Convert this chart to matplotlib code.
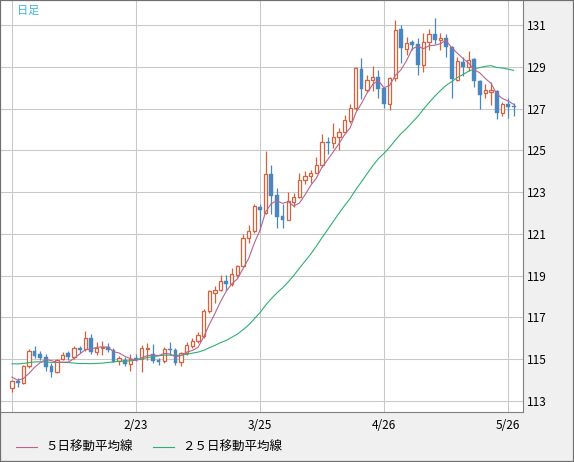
import numpy as np
import pandas as pd
import matplotlib
matplotlib.use('Agg')
import matplotlib.pyplot as plt
from matplotlib.patches import Rectangle
from matplotlib.lines import Line2D

plt.rcParams['font.family'] = ['Noto Sans CJK JP', 'DejaVu Sans']

# 日足データ (1/24 - 5/27)
dates = pd.bdate_range('2022-01-24', '2022-05-27')

open_ = [113.62, 113.95, 113.86, 114.68, 115.39, 115.25, 115.10, 114.66, 114.40, 115.00,
         115.28, 115.09, 115.52, 115.47, 116.00, 115.33, 115.53, 115.58, 115.44, 114.91,
         114.96, 114.76, 115.06, 115.00, 115.48, 115.24, 114.96, 114.93, 115.48, 115.44,
         114.88, 115.28, 115.65, 115.86, 116.12, 117.30, 118.18, 118.33, 118.76, 118.58,
         119.05, 119.45, 120.80, 121.15, 122.30, 121.98, 123.85, 122.85, 121.85, 121.68,
         122.52, 122.76, 123.58, 123.77, 123.93, 124.30, 125.42, 125.35, 125.65, 125.90,
         126.42, 127.05, 128.88, 127.90, 128.38, 128.50, 128.00, 127.20, 128.45, 130.80,
         129.85, 130.17, 130.10, 129.10, 130.18, 130.57, 130.30, 130.40, 129.93, 128.35,
         129.25, 129.00, 129.35, 128.30, 127.73, 127.80, 127.85, 126.80, 127.22, 127.12]
high = [114.00, 114.10, 114.72, 115.49, 115.65, 115.40, 115.25, 114.80, 115.02, 115.35,
        115.40, 115.63, 115.65, 116.33, 116.20, 115.84, 115.87, 115.75, 115.55, 115.17,
        115.10, 115.25, 115.25, 115.68, 115.76, 115.73, 115.05, 115.58, 115.84, 115.55,
        115.35, 115.80, 116.00, 116.32, 117.40, 118.30, 118.50, 119.05, 119.03, 119.38,
        119.50, 121.00, 121.42, 122.42, 122.45, 124.97, 124.30, 123.18, 122.42, 123.00,
        122.95, 123.90, 124.00, 124.05, 124.70, 125.77, 125.63, 126.30, 126.05, 126.70,
        127.20, 129.00, 129.40, 128.62, 129.05, 128.85, 128.05, 128.50, 131.25, 131.00,
        130.45, 130.30, 130.37, 130.60, 130.80, 131.35, 130.60, 130.55, 130.00, 129.45,
        129.48, 129.75, 129.40, 128.35, 128.17, 128.25, 127.88, 127.33, 127.50, 127.25]
low = [113.45, 113.68, 113.80, 114.60, 115.05, 114.95, 114.45, 114.16, 114.35, 114.95,
       114.96, 115.02, 115.30, 115.40, 115.25, 115.20, 115.20, 115.32, 114.85, 114.72,
       114.68, 114.45, 114.90, 114.40, 114.96, 114.80, 114.70, 114.80, 115.20, 114.70,
       114.68, 115.20, 115.55, 115.75, 116.02, 117.22, 117.70, 118.25, 118.30, 118.50,
       118.95, 119.40, 120.55, 121.05, 121.18, 121.95, 121.95, 121.30, 121.28, 121.65,
       122.30, 122.70, 123.40, 123.45, 123.90, 124.20, 124.80, 125.10, 125.02, 125.85,
       126.30, 126.95, 127.45, 127.80, 127.82, 127.50, 127.02, 126.95, 128.30, 129.20,
       129.55, 129.80, 128.62, 128.75, 129.80, 130.10, 129.80, 129.45, 127.52, 128.30,
       128.55, 128.78, 128.05, 126.98, 127.50, 127.17, 126.48, 126.64, 126.53, 126.65]
close = [113.96, 113.86, 114.68, 115.39, 115.15, 115.07, 114.64, 114.40, 114.96, 115.20,
         115.09, 115.52, 115.45, 116.00, 115.32, 115.55, 115.60, 115.42, 114.88, 115.04,
         114.76, 115.02, 114.98, 115.52, 115.55, 114.93, 114.88, 115.47, 115.42, 114.83,
         115.28, 115.68, 115.88, 116.15, 117.30, 118.25, 118.33, 118.75, 118.60, 119.10,
         119.45, 120.80, 121.15, 122.32, 122.12, 123.85, 122.82, 121.82, 121.68, 122.55,
         122.76, 123.58, 123.77, 123.93, 124.30, 125.38, 125.35, 125.66, 125.88, 126.44,
         127.05, 128.92, 127.92, 128.38, 128.52, 127.95, 127.22, 128.45, 130.75, 129.88,
         130.15, 130.05, 129.08, 130.18, 130.57, 130.28, 130.40, 129.93, 128.40, 129.27,
         129.00, 129.33, 128.30, 127.65, 127.88, 127.88, 126.80, 127.20, 127.06, 127.08]

# 移動平均の計算用 (表示期間より前の終値)
warmup_close = [114.08, 114.10, 114.42, 114.36, 114.84, 114.82, 114.95, 115.08, 115.08, 115.30,
                116.12, 116.13, 115.84, 115.56, 115.21, 115.28, 114.65, 114.20, 114.20, 114.60,
                114.59, 114.31, 114.15, 113.69]

price_ticks = [113, 115, 117, 119, 121, 123, 125, 127, 129, 131]
grid_dates = ['2022-01-24', '2022-02-23', '2022-03-25', '2022-04-26', '2022-05-26']
grid_labels = ['', '2/23', '3/25', '4/26', '5/26']

up_color = '#d9603b'
down_color = '#4a86bf'
ma5_color = '#b8648f'
ma25_color = '#2fb070'


def main():
    draw_pic()


def draw_pic():
    df = pd.DataFrame({'date': dates, 'open': open_, 'high': high, 'low': low, 'close': close})
    all_close = pd.Series(warmup_close + close)
    df['ma5'] = all_close.rolling(5).mean().values[len(warmup_close):]
    df['ma25'] = all_close.rolling(25).mean().values[len(warmup_close):]
    x = np.arange(len(df))

    fig = plt.figure(figsize=(5.74, 4.62), dpi=100, facecolor='#f0f0f0')
    ax = fig.add_axes([1 / 574, 50 / 462, 522 / 574, 411 / 462])
    ax.set_facecolor('white')

    up = df['close'] >= df['open']
    wick_colors = np.where(up, up_color, down_color)
    ax.vlines(x, df['low'], df['high'], colors=wick_colors, linewidth=0.9, zorder=3)

    body_bottom = np.minimum(df['open'], df['close'])
    body_height = np.maximum((df['close'] - df['open']).abs(), 0.03)
    ax.bar(x[up], body_height[up], bottom=body_bottom[up], width=0.58,
           facecolor='white', edgecolor=up_color, linewidth=0.9, zorder=4)
    ax.bar(x[~up], body_height[~up], bottom=body_bottom[~up], width=0.68,
           facecolor=down_color, edgecolor=down_color, linewidth=0.3, zorder=4)

    ax.plot(x, df['ma25'], color=ma25_color, linewidth=0.8, zorder=5)
    ax.plot(x, df['ma5'], color=ma5_color, linewidth=0.8, zorder=5)

    ax.set_xlim(-1.95, 90.67)
    ax.set_ylim(112.47, 132.15)

    date_str = df['date'].dt.strftime('%Y-%m-%d').tolist()
    grid_pos = [date_str.index(d) for d in grid_dates]
    ax.set_xticks(grid_pos)
    ax.set_xticklabels(grid_labels)
    ax.set_yticks(price_ticks)
    ax.yaxis.tick_right()
    ax.tick_params(axis='both', length=0, labelsize=8.5, colors='black')
    ax.tick_params(axis='y', pad=2.5)
    ax.tick_params(axis='x', pad=5)
    for lab in ax.get_yticklabels():
        lab.set_horizontalalignment('left')
    ax.grid(True, color='#c8c8c8', linewidth=0.75, zorder=0)
    ax.set_axisbelow(True)

    for axis in ['top', 'left']:
        ax.spines[axis].set_visible(False)
    for axis in ['bottom', 'right']:
        ax.spines[axis].set_color('#808080')
        ax.spines[axis].set_linewidth(0.8)

    # 日足ラベル
    fig.text(17 / 574, 1 - 11 / 462, '日足', color='#3cb4e6', fontsize=8, va='center', ha='left')

    # 凡例
    ly = 1 - 447 / 462
    fig.add_artist(Line2D([16 / 574, 37 / 574], [ly, ly], color=ma5_color, linewidth=0.8,
                          transform=fig.transFigure))
    fig.text(45 / 574, ly, '５日移動平均線', fontsize=9, va='center', ha='left')
    fig.add_artist(Line2D([153 / 574, 174 / 574], [ly, ly], color=ma25_color, linewidth=0.8,
                          transform=fig.transFigure))
    fig.text(182 / 574, ly, '２５日移動平均線', fontsize=9, va='center', ha='left')

    # 外枠
    fig.add_artist(Rectangle((0, 0), 1, 1, transform=fig.transFigure, fill=False,
                             edgecolor='#707070', linewidth=1.6))

    plt.savefig('out.png', dpi=100, facecolor=fig.get_facecolor())


if __name__ == '__main__':
    main()
